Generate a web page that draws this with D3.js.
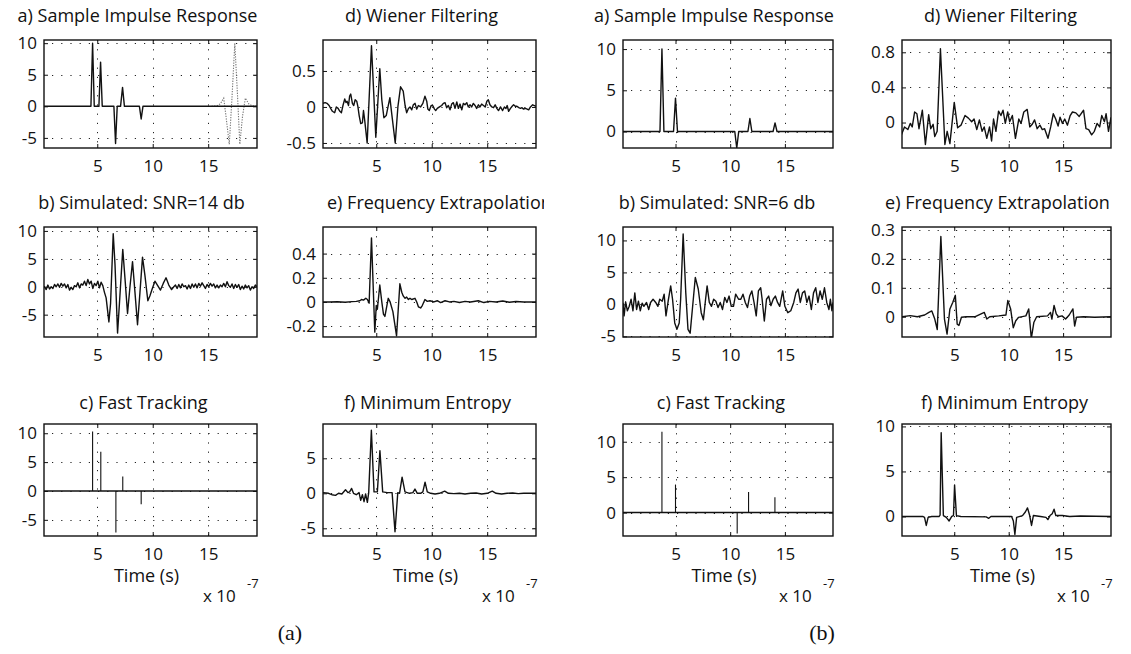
<!DOCTYPE html>
<html>
<head>
<meta charset="utf-8">
<script src="https://cdn.jsdelivr.net/npm/d3@7"></script>
<style>
  html, body { margin: 0; padding: 0; background: #fff; }
  svg { display: block; }
  text { font-family: "Open Sans", "Noto Sans", sans-serif; fill: #111; }
</style>
</head>
<body>
<script>
// Time axis in units of 1e-7 s
const timeSpan = [0.2, 19.4];
const xTicks = [5, 10, 15];

// ---- Figure (a) : SNR = 14 dB ----
const impulseA = [[0.2,0],[4.43,0],[4.58,10],[4.73,0],[5.15,0],[5.3,7],[5.45,0],[6.5,0],[6.65,-5.9],[6.8,0],
  [7.1,0],[7.28,3],[7.45,0],[8.8,0],[8.96,-2],[9.12,0],[19.4,0]];
const waveletA = [[15.3,0],[15.8,0.1],[16.1,0.4],[16.4,1.3],[16.6,-1.5],[16.9,-6],[17.15,1.5],[17.4,10],
  [17.65,1.5],[17.85,-6],[18.1,-1.5],[18.35,1.3],[18.65,0.4],[18.95,0.1],[19.4,0]];
const simulatedA = [[0.2,0.1],[0.4,-0.5],[0.55,0.3],[0.7,-0.4],[0.85,0.0],[1.0,-0.3],[1.15,0.4],[1.3,0.0],
  [1.45,0.5],[1.6,-0.1],[1.75,0.6],[1.9,0.1],[2.05,0.5],[2.2,-0.2],[2.35,0.4],[2.5,-0.6],[2.65,-0.1],[2.8,-0.5],
  [2.95,0.2],[3.1,0.0],[3.25,0.7],[3.4,-0.2],[3.55,0.5],[3.7,0.3],[3.85,1.0],[4.0,0.2],[4.15,1.3],[4.3,0.5],
  [4.45,1.0],[4.6,-0.3],[4.75,0.6],[4.9,0.2],[5.05,1.0],[5.2,-0.2],[5.35,0.8],[5.5,0.2],[5.65,-1.0],[5.8,-2.0],
  [6.05,-6.3],[6.2,-3],[6.44,9.5],[6.6,4],[6.83,-8.3],[7.0,-3],[7.3,6.7],[7.5,1.5],[7.73,-4.8],[7.95,0],
  [8.18,4.5],[8.4,-1],[8.63,-6.8],[8.85,-1],[9.08,5.3],[9.3,2],[9.56,-2.5],[9.75,-1.6],[9.95,-0.4],[10.2,1.0],
  [10.45,0.2],[10.7,-0.6],[10.95,0.6],[11.2,1.6],[11.45,0.3],[11.7,-0.5],[11.9,0.0],[12.05,0.3],[12.2,-0.3],
  [12.35,0.4],[12.5,-0.2],[12.65,0.5],[12.8,0.0],[12.95,0.2],[13.1,-0.4],[13.25,0.3],[13.4,-0.3],[13.55,0.5],
  [13.7,-0.1],[13.85,0.5],[14.0,-0.2],[14.15,0.6],[14.3,0.1],[14.45,0.7],[14.6,0.2],[14.75,-0.3],[14.9,0.4],
  [15.05,0.0],[15.2,0.6],[15.35,0.1],[15.5,0.5],[15.65,-0.2],[15.8,0.3],[15.95,-0.2],[16.1,0.3],[16.25,0.0],
  [16.4,0.6],[16.55,0.0],[16.7,0.9],[16.85,0.2],[17.0,-0.1],[17.15,0.5],[17.3,-0.3],[17.45,0.4],[17.6,-0.1],
  [17.75,0.4],[17.9,-0.5],[18.05,0.1],[18.2,-0.4],[18.35,0.3],[18.5,-0.2],[18.65,0.2],[18.8,-0.6],[18.95,0.0],
  [19.1,-0.3],[19.25,0.3],[19.4,0.0]];
const trackingA = [[4.58,10.3],[5.32,6.8],[6.68,-7.2],[7.3,2.5],[8.96,-2.3]];
const wienerA = [[0.2,0.05],[0.4,0.06],[0.56,0.05],[0.75,0.02],[0.89,-0.02],[1.05,-0.06],[1.25,-0.08],[1.4,0.0],
  [1.56,-0.02],[1.72,-0.06],[1.86,-0.08],[2.0,0.02],[2.16,0.11],[2.27,0.06],[2.37,0.08],[2.5,0.02],[2.6,0.15],
  [2.7,0.18],[2.85,0.05],[2.97,0.02],[3.1,0.1],[3.24,0.08],[3.35,0.0],[3.46,-0.12],[3.6,-0.23],[3.75,-0.22],
  [3.85,-0.05],[3.97,-0.2],[4.18,-0.5],[4.57,0.85],[4.96,-0.42],[5.32,0.53],[5.5,0.1],[5.69,-0.15],[5.9,-0.12],
  [6.23,0.13],[6.4,-0.1],[6.71,-0.5],[6.95,0.0],[7.19,0.28],[7.43,0.22],[7.6,0.02],[7.74,-0.08],[7.9,-0.02],
  [8.04,0.0],[8.2,-0.04],[8.34,0.03],[8.5,0.05],[8.64,-0.03],[8.8,0.02],[9.0,0.0],[9.2,0.05],[9.39,0.15],
  [9.55,0.08],[9.65,-0.03],[9.78,-0.05],[9.95,0.02],[10.09,0.02],[10.25,-0.03],[10.36,-0.05],[10.5,-0.02],
  [10.7,0.0],[10.9,0.02],[11.05,0.05],[11.2,0.06],[11.35,-0.01],[11.5,0.02],[11.65,-0.04],[11.8,0.04],
  [11.95,0.06],[12.1,-0.02],[12.26,0.07],[12.4,-0.02],[12.55,0.04],[12.71,-0.04],[12.85,0.05],[13.0,0.03],
  [13.16,0.06],[13.3,0.0],[13.46,0.03],[13.6,0.0],[13.75,0.05],[13.91,0.02],[14.05,-0.02],[14.21,0.03],
  [14.35,0.0],[14.5,0.04],[14.67,0.02],[14.82,0.0],[14.97,0.08],[15.1,0.1],[15.25,0.03],[15.42,0.0],
  [15.57,-0.01],[15.72,0.03],[15.87,-0.02],[16.02,-0.05],[16.2,0.0],[16.39,-0.05],[16.55,0.0],[16.69,-0.02],
  [16.8,0.02],[16.93,-0.06],[17.1,-0.02],[17.25,0.01],[17.38,0.03],[17.53,0.01],[17.68,0.01],[17.85,-0.01],
  [18.0,-0.02],[18.14,-0.01],[18.28,-0.03],[18.45,-0.02],[18.6,-0.03],[18.74,-0.04],[18.9,0.0],[19.1,0.03],
  [19.25,0.02],[19.4,0.01]];
const extrapA = [[0.2,0],[0.8,0.0],[1.5,0.002],[2.2,-0.002],[2.8,0.003],[3.2,0.005],[3.52,0.01],[3.67,0.02],
  [3.85,0.015],[4.06,0.03],[4.2,0.02],[4.36,-0.01],[4.57,0.53],[4.87,-0.25],[5.0,-0.03],[5.1,-0.06],[5.32,0.14],
  [5.5,0.0],[5.65,-0.1],[5.78,-0.12],[6.08,0.03],[6.25,0.0],[6.5,-0.08],[6.83,-0.28],[7.13,0.15],[7.3,0.08],
  [7.43,0.05],[7.6,0.03],[7.74,0.04],[7.9,0.02],[8.04,0.03],[8.2,0.02],[8.49,0.03],[8.65,0.0],[8.8,-0.04],
  [9.0,-0.05],[9.15,-0.03],[9.39,0.02],[9.6,0.005],[9.84,0.01],[10.2,0.0],[10.5,0.01],[10.8,-0.005],[11.2,0.01],
  [11.6,0.0],[12.0,0.005],[12.5,-0.005],[13.0,0.005],[13.5,0.0],[14.2,0.01],[14.7,-0.005],[15.2,0.005],
  [15.8,0.0],[16.4,0.008],[17.0,-0.003],[17.6,0.004],[18.3,0.0],[19.4,0.0]];
const entropyA = [[0.2,0.1],[0.7,0.0],[1.0,-0.2],[1.33,-0.3],[1.6,0.0],[1.9,-0.1],[2.23,0.5],[2.45,0.1],
  [2.6,0.2],[2.78,0.7],[2.95,0.0],[3.2,-0.2],[3.45,0.1],[3.6,-1.0],[3.75,-0.2],[3.9,-1.2],[4.04,-0.1],
  [4.2,-1.3],[4.32,0.1],[4.56,9.0],[4.8,0.2],[5.1,0.2],[5.33,6.1],[5.58,0.2],[6.0,0.1],[6.43,0.1],[6.69,-5.5],
  [6.94,0.1],[7.1,0.0],[7.33,2.3],[7.59,0.2],[8.0,0.0],[8.3,0.1],[8.49,0.6],[8.7,0.0],[9.0,0.0],[9.2,0.2],
  [9.4,1.6],[9.6,0.2],[9.9,0.0],[10.3,-0.1],[10.7,0.0],[11.17,0.3],[11.5,0.0],[12.0,-0.05],[12.5,0.0],
  [13.0,-0.1],[13.5,0.0],[14.0,0.05],[14.5,-0.1],[15.0,0.0],[15.46,0.3],[15.8,0.0],[16.3,-0.1],[16.8,0.0],
  [17.3,0.05],[17.8,-0.05],[18.3,0.0],[18.8,0.0],[19.4,0.0]];

// ---- Figure (b) : SNR = 6 dB ----
const impulseB = [[0.2,0],[3.58,0],[3.76,10],[3.94,0],[4.82,0],[5.0,4.05],[5.18,0],[10.42,0],[10.6,-2.0],
  [10.78,0],[11.62,0],[11.8,1.58],[11.98,0],[13.92,0],[14.1,1.05],[14.28,0],[19.4,0]];
const simulatedB = [[0.2,0.26],[0.3,-1.8],[0.44,0.4],[0.6,-1.0],[0.77,-0.3],[0.94,0.8],[1.11,-1.0],[1.28,1.8],
  [1.44,-0.8],[1.61,0.5],[1.78,-1.0],[1.95,0.2],[2.11,-0.3],[2.35,0.3],[2.55,-0.8],[2.72,0.3],[2.95,0.8],
  [3.19,0.3],[3.39,-0.3],[3.56,0.8],[3.79,0.5],[3.96,1.6],[4.13,-1.8],[4.33,0.5],[4.56,2.9],[4.73,0.8],
  [4.93,-2.9],[5.13,-3.9],[5.34,-2.9],[5.47,0.8],[5.7,11.0],[5.94,1.8],[6.14,-3.9],[6.34,-4.5],[6.54,-0.8],
  [6.81,4.2],[7.08,2.4],[7.35,-1.3],[7.55,-2.4],[7.75,0.8],[7.89,2.9],[8.09,0.3],[8.29,-0.3],[8.49,0.8],
  [8.69,0.5],[8.89,-0.5],[9.09,0.3],[9.3,-0.8],[9.5,1.1],[9.7,0.3],[9.9,1.3],[10.1,-0.3],[10.3,-0.3],
  [10.5,1.6],[10.77,0.8],[10.97,0.8],[11.17,1.6],[11.38,0.3],[11.58,-0.5],[11.78,1.3],[11.98,2.1],[12.18,0.3],
  [12.38,-1.8],[12.58,2.1],[12.79,2.6],[12.92,0.8],[13.12,-2.6],[13.32,0.8],[13.52,1.3],[13.72,-0.2],
  [13.93,0.8],[14.13,1.3],[14.33,0.3],[14.53,-0.3],[14.8,2.1],[15.0,-0.3],[15.27,-1.3],[15.54,-1.0],
  [15.81,0.3],[16.01,1.8],[16.21,2.4],[16.41,0.3],[16.61,1.8],[16.81,2.1],[17.01,0.3],[17.21,1.3],[17.42,-0.8],
  [17.62,1.8],[17.82,2.6],[18.02,0.3],[18.22,2.1],[18.42,0.8],[18.62,2.6],[18.83,0.3],[19.03,-0.8],[19.16,0.8],
  [19.3,-1.0],[19.4,0.3]];
const trackingB = [[3.76,11.4],[5.0,3.96],[10.64,-2.95],[11.68,2.9],[14.09,2.17]];
const wienerB = [[0.15,-0.14],[0.43,-0.05],[0.74,-0.08],[0.96,-0.01],[1.14,-0.05],[1.36,0.12],[1.57,0.10],
  [1.76,-0.07],[2.07,0.14],[2.35,-0.25],[2.65,0.09],[2.84,-0.07],[3.06,-0.02],[3.21,-0.16],[3.43,-0.10],
  [3.73,0.84],[4.14,-0.25],[4.35,-0.10],[4.60,-0.24],[5.0,0.23],[5.31,-0.06],[5.62,-0.03],[5.99,0.08],
  [6.30,0.05],[6.60,0.01],[6.82,0.04],[7.07,-0.08],[7.31,0.03],[7.56,-0.10],[7.75,-0.05],[7.99,-0.18],
  [8.24,-0.05],[8.43,-0.21],[8.61,0.04],[8.83,-0.10],[9.07,0.13],[9.29,0.08],[9.48,0.14],[9.69,-0.01],
  [9.91,0.12],[10.09,0.01],[10.34,0.08],[10.62,-0.18],[10.93,0.04],[11.14,-0.01],[11.39,0.12],[11.70,0.15],
  [11.94,-0.05],[12.16,-0.02],[12.38,0.03],[12.62,-0.07],[12.87,-0.03],[13.09,-0.08],[13.30,-0.07],
  [13.61,-0.18],[13.86,-0.05],[14.10,0.10],[14.32,0.04],[14.54,-0.04],[14.72,0.06],[14.94,-0.01],[15.15,0.04],
  [15.40,-0.03],[15.65,0.08],[15.86,0.12],[16.17,0.11],[16.48,0.07],[16.88,0.14],[17.10,-0.07],[17.35,-0.08],
  [17.62,-0.14],[17.87,-0.10],[18.12,-0.01],[18.36,-0.05],[18.55,0.08],[18.80,0.01],[18.95,0.10],[19.17,-0.10],
  [19.4,0.06]];
const extrapB = [[0.2,0],[0.95,0.004],[1.61,0.0],[2.28,0.006],[2.67,0.015],[2.94,0.02],[3.21,-0.008],
  [3.44,-0.044],[3.77,0.277],[4.1,-0.008],[4.34,-0.06],[4.6,0.027],[4.87,0.05],[5.1,0.074],[5.27,-0.026],
  [5.43,-0.03],[5.66,-0.002],[6.1,0.0],[6.93,0.0],[7.76,0.015],[7.99,-0.008],[8.26,0.0],[9.09,0.003],
  [9.75,0.006],[9.92,0.056],[10.18,0.027],[10.42,-0.038],[10.65,-0.014],[10.91,-0.002],[11.58,0.003],
  [11.84,0.027],[12.08,-0.075],[12.31,-0.02],[12.57,0.0],[13.57,0.003],[13.84,0.015],[13.97,-0.008],
  [14.17,0.039],[14.37,0.01],[14.57,0.0],[14.9,0.003],[15.23,-0.008],[15.56,0.006],[15.9,0.027],[16.06,-0.032],
  [16.23,-0.002],[16.89,0.0],[17.89,-0.002],[19.4,0.0]];
const entropyB = [[0.2,0],[2.1,0],[2.27,-0.1],[2.43,-1.0],[2.6,-0.1],[2.93,0.0],[3.6,0.0],[3.7,0.15],[3.8,9.3],
  [4.0,0.1],[4.27,-0.1],[4.53,-0.5],[4.77,0.0],[4.93,0.1],[5.03,3.5],[5.2,0.1],[5.6,0.0],[7.93,-0.05],
  [8.17,-0.2],[8.37,0.0],[10.27,0.0],[10.43,-0.5],[10.57,-2.0],[10.73,-0.1],[11.27,0.1],[11.53,0.5],[11.73,0.95],
  [11.93,0.1],[12.1,-1.0],[12.27,0.1],[12.93,0.0],[13.43,-0.1],[13.6,-0.35],[13.8,0.1],[14.0,0.3],[14.17,0.8],
  [14.33,0.1],[14.93,0.1],[15.6,0.0],[16.6,0.05],[19.4,0.0]];

// Panel layout: figure columns (box x-extent) and rows (box y-extent, title gap)
const figCols = [[[44, 257], [323, 536]], [[623, 833], [902, 1111]]];
const rowsY = [[40, 148], [227, 337], [424, 536]];
const titleGap = [18, 18, 15];
const figLabels = [{ text: "(a)", x: 290 }, { text: "(b)", x: 822 }];

const panels = [
  { fig: 0, col: 0, row: 0, title: "a) Sample Impulse Response", tdx: -13, y: [-6.6, 10.5], yTicks: [-5, 0, 5, 10],
    lines: [impulseA], dotted: waveletA },
  { fig: 0, col: 0, row: 1, title: "b) Simulated: SNR=14 db", tdx: -9, y: [-9.0, 10.7], yTicks: [-5, 0, 5, 10],
    lines: [simulatedA] },
  { fig: 0, col: 0, row: 2, title: "c) Fast Tracking", tdx: -7, y: [-7.8, 11.6], yTicks: [-5, 0, 5, 10],
    stems: trackingA },
  { fig: 0, col: 1, row: 0, title: "d) Wiener Filtering", tdx: -8, y: [-0.57, 0.93], yTicks: [-0.5, 0, 0.5],
    lines: [wienerA] },
  { fig: 0, col: 1, row: 1, title: "e) Frequency Extrapolation", titleStart: 327, titleClip: 544,
    y: [-0.29, 0.62], yTicks: [-0.2, 0, 0.2, 0.4], lines: [extrapA] },
  { fig: 0, col: 1, row: 2, title: "f) Minimum Entropy", tdx: -2, y: [-6.1, 9.9], yTicks: [-5, 0, 5],
    lines: [entropyA] },
  { fig: 1, col: 0, row: 0, title: "a) Sample Impulse Response", tdx: -14, y: [-2.0, 11.1], yTicks: [0, 5, 10],
    lines: [impulseB] },
  { fig: 1, col: 0, row: 1, title: "b) Simulated: SNR=6 db", tdx: -11, y: [-5.1, 12.1], yTicks: [-5, 0, 5, 10],
    lines: [simulatedB] },
  { fig: 1, col: 0, row: 2, title: "c) Fast Tracking", tdx: -7, y: [-3.3, 12.5], yTicks: [0, 5, 10],
    stems: trackingB },
  { fig: 1, col: 1, row: 0, title: "d) Wiener Filtering", tdx: -6, y: [-0.29, 0.94], yTicks: [0, 0.4, 0.8],
    lines: [wienerB] },
  { fig: 1, col: 1, row: 1, title: "e) Frequency Extrapolation", tdx: -9, y: [-0.07, 0.31],
    yTicks: [0, 0.1, 0.2, 0.3], lines: [extrapB] },
  { fig: 1, col: 1, row: 2, title: "f) Minimum Entropy", tdx: -2, y: [-2.17, 10.27], yTicks: [0, 5, 10],
    lines: [entropyB] }
];

const W = 1131, H = 654;
const svg = d3.select("body").append("svg").attr("width", W).attr("height", H);
const defs = svg.append("defs");

panels.forEach((p, i) => {
  const [x0, x1] = figCols[p.fig][p.col];
  const [y0, y1] = rowsY[p.row];
  const x = d3.scaleLinear().domain(timeSpan).range([x0, x1]);
  const y = d3.scaleLinear().domain(p.y).range([y1, y0]);
  const g = svg.append("g");

  const clipId = "clip" + i;
  defs.append("clipPath").attr("id", clipId)
    .append("rect").attr("x", x0).attr("y", y0).attr("width", x1 - x0).attr("height", y1 - y0);

  // dotted grid
  const grid = g.append("g").attr("stroke", "#222").attr("stroke-width", 1)
    .attr("stroke-dasharray", "1.2,8").attr("fill", "none");
  grid.selectAll("line.v").data(xTicks).join("line").attr("class", "v")
    .attr("x1", d => Math.round(x(d)) + 0.5).attr("x2", d => Math.round(x(d)) + 0.5)
    .attr("y1", y0).attr("y2", y1);
  grid.selectAll("line.h").data(p.yTicks).join("line").attr("class", "h")
    .attr("y1", d => Math.round(y(d)) + 0.5).attr("y2", d => Math.round(y(d)) + 0.5)
    .attr("x1", x0 + 8).attr("x2", x1);

  // axes with inward ticks
  const ax = g.append("g");
  ax.append("g").attr("transform", `translate(0,${y1})`)
    .call(d3.axisBottom(x).tickValues(xTicks).tickSizeInner(-4).tickSizeOuter(0).tickPadding(12));
  ax.append("g").attr("transform", `translate(${x0},0)`)
    .call(d3.axisLeft(y).tickValues(p.yTicks).tickSizeInner(-4).tickSizeOuter(0).tickPadding(7)
      .tickFormat(d => String(d)));
  ax.append("g").attr("transform", `translate(0,${y0})`)
    .call(d3.axisTop(x).tickValues(xTicks).tickSizeInner(-4).tickSizeOuter(0).tickFormat(""));
  ax.append("g").attr("transform", `translate(${x1},0)`)
    .call(d3.axisRight(y).tickValues(p.yTicks).tickSizeInner(-4).tickSizeOuter(0).tickFormat(""));
  ax.selectAll(".domain").remove();
  ax.selectAll(".tick line").attr("stroke", "#111").attr("stroke-width", 1);
  ax.selectAll("text").attr("font-family", "Open Sans").attr("font-size", 17).attr("fill", "#111");

  const plot = g.append("g").attr("clip-path", `url(#${clipId})`);
  const line = d3.line().x(d => x(d[0])).y(d => y(d[1]));

  if (p.dotted) {
    plot.append("path").datum(p.dotted).attr("d", line).attr("fill", "none")
      .attr("stroke", "#777").attr("stroke-width", 1.1).attr("stroke-dasharray", "1.3,1.3");
  }
  (p.lines || []).forEach(pts => {
    plot.append("path").datum(pts).attr("d", line).attr("fill", "none")
      .attr("stroke", "#111").attr("stroke-width", 1.4).attr("stroke-linejoin", "round");
  });
  if (p.stems) {
    plot.append("line").attr("x1", x0).attr("x2", x1).attr("y1", y(0)).attr("y2", y(0))
      .attr("stroke", "#111").attr("stroke-width", 1.5);
    plot.selectAll("line.stem").data(p.stems).join("line").attr("class", "stem")
      .attr("x1", d => x(d[0])).attr("x2", d => x(d[0]))
      .attr("y1", y(0)).attr("y2", d => y(d[1]))
      .attr("stroke", "#111").attr("stroke-width", 1.1);
  }

  // frame
  g.append("rect").attr("x", x0).attr("y", y0).attr("width", x1 - x0).attr("height", y1 - y0)
    .attr("fill", "none").attr("stroke", "#111").attr("stroke-width", 1.4);

  // title (the long one in figure (a) runs past the figure edge and is cut there)
  const t = g.append("text").attr("y", y0 - titleGap[p.row]).attr("font-size", 18).text(p.title);
  if (p.titleStart !== undefined) {
    t.attr("x", p.titleStart).attr("text-anchor", "start");
  } else {
    t.attr("x", (x0 + x1) / 2 + p.tdx).attr("text-anchor", "middle");
  }
  if (p.titleClip) {
    const tcId = "tclip" + i;
    defs.append("clipPath").attr("id", tcId)
      .append("rect").attr("x", 0).attr("y", 0).attr("width", p.titleClip).attr("height", H);
    t.attr("clip-path", `url(#${tcId})`);
  }

  // bottom-row annotations
  if (p.row === 2) {
    g.append("text").attr("x", (x0 + x1) / 2 - 4).attr("y", y1 + 46)
      .attr("text-anchor", "middle").attr("font-size", 18).text("Time (s)");
    g.append("text").attr("x", x1 - 54).attr("y", y1 + 66).attr("font-size", 17).text("x 10");
    g.append("text").attr("x", x1 - 10).attr("y", y1 + 52).attr("font-size", 13).text("-7");
  }
});

figLabels.forEach(f => {
  svg.append("text").attr("x", f.x).attr("y", 640).attr("text-anchor", "middle")
    .style("font-family", "'Liberation Serif', 'DejaVu Serif', serif").attr("font-size", 22).text(f.text);
});
</script>
</body>
</html>
